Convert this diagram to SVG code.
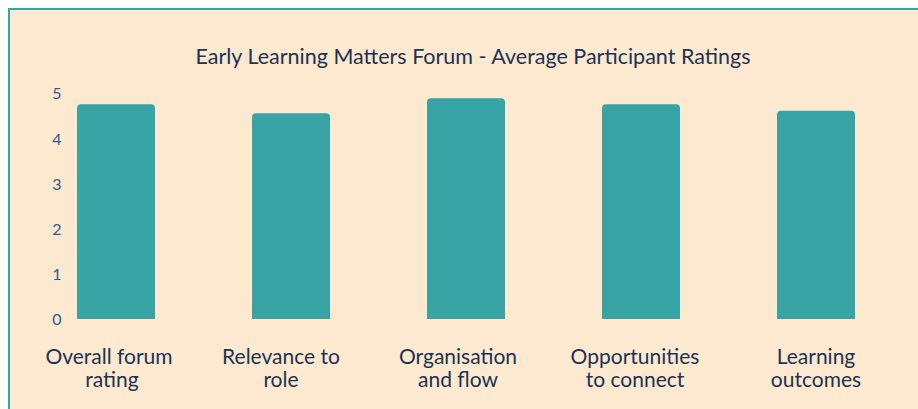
<svg xmlns="http://www.w3.org/2000/svg" width="918" height="409" viewBox="0 0 918 409">
<style>
.bar{fill:#38a3a5}
.title{font-family:Lato,"Liberation Sans",sans-serif;font-size:21.5px;fill:#1c3354;text-anchor:middle}
.cat{font-family:Lato,"Liberation Sans",sans-serif;font-size:21px;fill:#1c3354;text-anchor:middle}
.tick{font-family:Lato,"Liberation Sans",sans-serif;font-size:16px;fill:#2e5c8e;text-anchor:middle}
</style>
<rect x="0" y="0" width="918" height="409" fill="#ffffff"/>
<rect x="9" y="9" width="920" height="420" fill="#fce9cf" stroke="#38a3a5" stroke-width="2"/>
<text class="title" x="473" y="64">Early Learning Matters Forum - Average Participant Ratings</text>
<g id="yaxis">
<text class="tick" x="57" y="99">5</text>
<text class="tick" x="57" y="145">4</text>
<text class="tick" x="57" y="190">3</text>
<text class="tick" x="57" y="235">2</text>
<text class="tick" x="57" y="280">1</text>
<text class="tick" x="57" y="325">0</text>
</g>
<g id="bar1"><path class="bar" d="M77,319 V108.3 a4,4 0 0 1 4,-4 H151 a4,4 0 0 1 4,4 V319 Z"/>
<text class="cat" x="109" y="364">Overall forum</text><text class="cat" x="112" y="387">rating</text></g>
<g id="bar2"><path class="bar" d="M252,319 V117.3 a4,4 0 0 1 4,-4 H326 a4,4 0 0 1 4,4 V319 Z"/>
<text class="cat" x="281" y="364">Relevance to</text><text class="cat" x="281" y="387">role</text></g>
<g id="bar3"><path class="bar" d="M427,319 V102.3 a4,4 0 0 1 4,-4 H501 a4,4 0 0 1 4,4 V319 Z"/>
<text class="cat" x="458" y="364">Organisation</text><text class="cat" x="458" y="387">and flow</text></g>
<g id="bar4"><path class="bar" d="M602,319 V108.3 a4,4 0 0 1 4,-4 H676 a4,4 0 0 1 4,4 V319 Z"/>
<text class="cat" x="635" y="364">Opportunities</text><text class="cat" x="635" y="387">to connect</text></g>
<g id="bar5"><path class="bar" d="M777,319 V114.7 a4,4 0 0 1 4,-4 H851 a4,4 0 0 1 4,4 V319 Z"/>
<text class="cat" x="816" y="364">Learning</text><text class="cat" x="816" y="387">outcomes</text></g>
</svg>
